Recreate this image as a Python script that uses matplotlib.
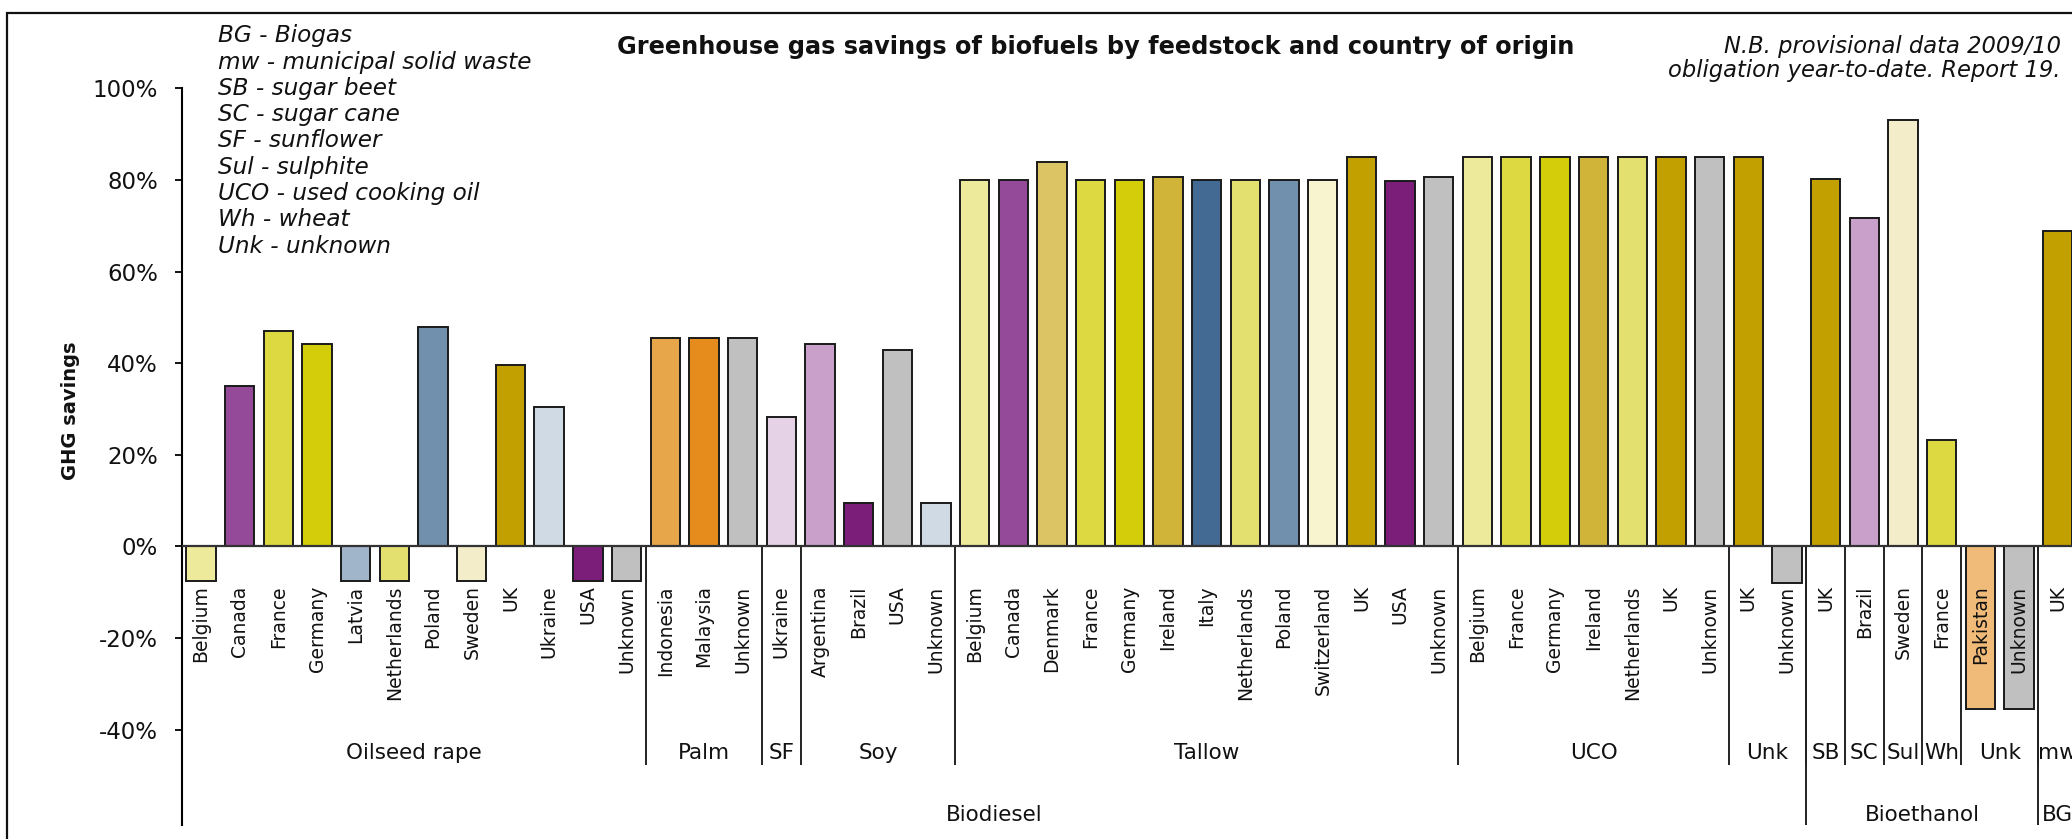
"""GHG savings of biofuels by feedstock and country of origin (RTFO report 19)"""
import matplotlib
matplotlib.use("Agg")
import matplotlib.pyplot as plt
from matplotlib.patches import Rectangle

# ========== data ==========
fuels = ["Biodiesel"] * 42 + ["Bioethanol"] * 6 + ["BG"]
feedstocks = (["Oilseed rape"] * 12 + ["Palm"] * 3 + ["SF"] + ["Soy"] * 4
              + ["Tallow"] * 13 + ["UCO"] * 7 + ["Unk"] * 2
              + ["SB", "SC", "Sul", "Wh", "Unk", "Unk"] + ["mw"])
countries = [
    "Belgium", "Canada", "France", "Germany", "Latvia", "Netherlands",
    "Poland", "Sweden", "UK", "Ukraine", "USA", "Unknown",
    "Indonesia", "Malaysia", "Unknown",
    "Ukraine",
    "Argentina", "Brazil", "USA", "Unknown",
    "Belgium", "Canada", "Denmark", "France", "Germany", "Ireland", "Italy",
    "Netherlands", "Poland", "Switzerland", "UK", "USA", "Unknown",
    "Belgium", "France", "Germany", "Ireland", "Netherlands", "UK", "Unknown",
    "UK", "Unknown",
    "UK", "Brazil", "Sweden", "France", "Pakistan", "Unknown",
    "UK",
]
savings = [
    -7.5, 35.0, 47.0, 44.2, -7.5, -7.5, 47.8, -7.5, 39.7, 30.5, -7.5, -7.5,
    45.4, 45.4, 45.4,
    28.2,
    44.2, 9.5, 42.8, 9.5,
    80.0, 80.0, 84.0, 80.0, 80.0, 80.6, 80.0, 80.0, 80.0, 80.0, 85.1, 79.8, 80.7,
    85.1, 85.1, 85.1, 85.1, 85.1, 85.1, 85.1,
    85.1, -7.9,
    80.3, 71.6, 93.0, 23.3, -35.4, -35.4,
    68.9,
]
abbreviations = [
    "BG - Biogas", "mw - municipal solid waste", "SB - sugar beet",
    "SC - sugar cane", "SF - sunflower", "Sul - sulphite",
    "UCO - used cooking oil", "Wh - wheat", "Unk - unknown",
]
yticks = [-40, -20, 0, 20, 40, 60, 80, 100]

# ========== style ==========
BAR_COLORS = [
    "#EEEA9C", "#944A98", "#DCDA40", "#D4CE0A", "#A0B4CA", "#E4E070",
    "#7190AE", "#F4EDCA", "#C2A000", "#D0DAE4", "#7A1E7A", "#C0C0C0",
    "#E8A64A", "#E68C1C", "#C0C0C0",
    "#E6D2E6",
    "#C8A0CA", "#7A1E7A", "#C0C0C0", "#D0DAE4",
    "#EEEA9C", "#944A98", "#DCC464", "#DCDA40", "#D4CE0A", "#D0B43A", "#426A92",
    "#E4E070", "#7190AE", "#F8F4D0", "#C2A000", "#7A1E7A", "#C0C0C0",
    "#EEEA9C", "#DCDA40", "#D4CE0A", "#D0B43A", "#E4E070", "#C2A000", "#C0C0C0",
    "#C2A000", "#C0C0C0",
    "#C2A000", "#C8A0CA", "#F4EDCA", "#DCDA40", "#F0BA78", "#C0C0C0",
    "#C2A000",
]
TEXT = "#111111"
plt.rcParams.update({
    "font.family": ["DejaVu Sans"],
    "axes.spines.top": False,
    "axes.spines.right": False,
    "axes.spines.bottom": False,
})

W, H = 2072, 839
fig = plt.figure(figsize=(W / 100, H / 100), dpi=100)

# axes placed in pixels: y-axis at x=182, 100% at y=88, -60.8% at y=825
n = len(savings)
cat_w = 38.68
y_top, y_bot = 100, -60.8
ax = fig.add_axes([181.7 / W, (H - 825) / H, n * cat_w / W, (825 - 88.3) / H])
ax.set_xlim(-0.5, n - 0.5)
ax.set_ylim(y_bot, y_top)

x = list(range(n))
ax.bar(x, savings, width=0.76, color=BAR_COLORS, edgecolor="#1a1a1a",
       linewidth=1.4, zorder=2)
ax.axhline(0, color="#333333", lw=1.6, zorder=3)

ax.set_xticks([])
ax.set_yticks(yticks)
ax.set_yticklabels([f"{v}%" for v in yticks], fontsize=16.5, color=TEXT)
ax.tick_params(axis="y", direction="out", length=5, width=1.3, pad=12)
ax.spines["left"].set_linewidth(1.5)
ax.spines["left"].set_bounds(y_bot, y_top)

# 国家标签（第一层）
for i, c in enumerate(countries):
    ax.text(i, -8.5, c, rotation=90, ha="center", va="top",
            fontsize=13.5, color=TEXT, zorder=4)


def spans(labels):
    out, start = [], 0
    for i in range(1, len(labels) + 1):
        if i == len(labels) or labels[i] != labels[start]:
            out.append((labels[start], start, i - 1))
            start = i
    return out


# 原料分组（第二层）
groups2 = spans([f"{f}|{s}" for f, s in zip(fuels, feedstocks)])
for key, a, b in groups2:
    ax.text((a + b) / 2, -45.0, key.split("|")[1], ha="center", va="center",
            fontsize=15.5, color=TEXT, clip_on=True)
    if a > 0:
        ax.vlines(a - 0.5, -47.7, 0, color="#222222", lw=1.4)

# 燃料分组（第三层）
for name, a, b in spans(fuels):
    ax.text((a + b) / 2, -58.6, name, ha="center", va="center",
            fontsize=15.5, color=TEXT, clip_on=True)
    if a > 0:
        ax.vlines(a - 0.5, y_bot, 0, color="#222222", lw=1.4)

# ========== 标题与注释 ==========
fig.text(617 / W, 1 - 47 / H, "Greenhouse gas savings of biofuels by feedstock and country of origin",
         ha="left", va="center", fontsize=17.3, fontweight="bold", color=TEXT)
fig.text(2061 / W, 1 - 46 / H, "N.B. provisional data 2009/10",
         ha="right", va="center", fontsize=16.3, style="italic", color=TEXT)
fig.text(2061 / W, 1 - 70 / H, "obligation year-to-date. Report 19.",
         ha="right", va="center", fontsize=16.3, style="italic", color=TEXT)
for k, line in enumerate(abbreviations):
    fig.text(218 / W, 1 - (35.7 + k * 26.3) / H, line, ha="left", va="center",
             fontsize=16.7, style="italic", color=TEXT)
fig.text(70 / W, 1 - 411 / H, "GHG savings", rotation=90, ha="center",
         va="center", fontsize=14, fontweight="bold", color=TEXT)

# 外框（右侧与底部被裁掉）
fig.patches.append(Rectangle((7 / W, -0.2), 1.5, 1.2 - 13 / H, transform=fig.transFigure,
                             fill=False, edgecolor="#111111", lw=1.6))

fig.savefig("out.png", dpi=100)
